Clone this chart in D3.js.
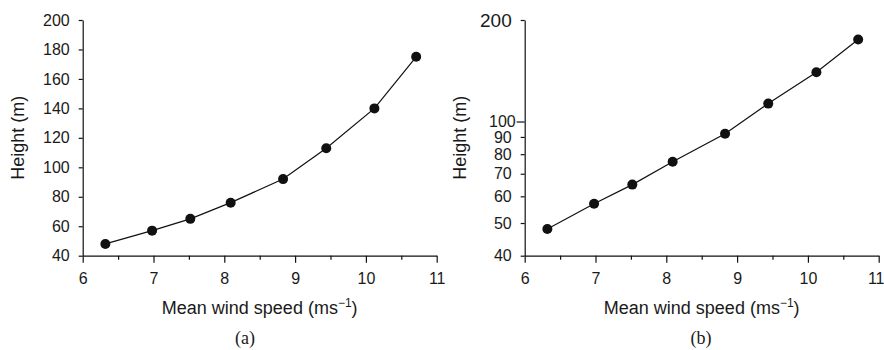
<!DOCTYPE html>
<html>
<head>
<meta charset="utf-8">
<script src="https://cdn.jsdelivr.net/npm/d3@7"></script>
<style>
  html, body { margin: 0; padding: 0; background: #fff; }
  svg { display: block; }
  .tick text { font-family: "Liberation Sans", Arial, sans-serif; fill: #1a1a1a; }
</style>
</head>
<body>
<svg id="chart" width="884" height="350"></svg>
<script>
// Mean wind speed against hub height
const windSpeed = [6.32, 6.98, 7.52, 8.09, 8.83, 9.44, 10.12, 10.71];
const height    = [48, 57, 65, 76, 92, 113, 140, 175];

const xMajorTicks = [6, 7, 8, 9, 10, 11];
const xMinorTicks = [6.5, 7.5, 8.5, 9.5, 10.5];
const yLinearTicks = [40, 60, 80, 100, 120, 140, 160, 180, 200];
const yLogTicks = [40, 50, 60, 70, 80, 90, 100, 200];
const panelCaptions = ["(a)", "(b)"];

const points = windSpeed.map((w, i) => ({ w, h: height[i] }));

const svg = d3.select("#chart");
const font = '"Liberation Sans", Arial, sans-serif';

function drawPanel(offsetX, yScaleType, caption, captionX) {
  const left = 82.7, right = 436.7, top = 20, bottom = 255.7;
  const g = svg.append("g").attr("transform", `translate(${offsetX},0)`);

  const x = d3.scaleLinear().domain([6, 11]).range([left, right]);
  const y = (yScaleType === "log" ? d3.scaleLog() : d3.scaleLinear())
    .domain([40, 200]).range([bottom, top]);

  // x axis: labelled integer ticks plus short half-unit ticks
  const xAxis = g.append("g").attr("transform", `translate(0,${bottom})`)
    .call(d3.axisBottom(x).tickValues(xMajorTicks).tickFormat(d3.format("d"))
      .tickSize(7).tickSizeOuter(0).tickPadding(10));
  g.append("g").attr("transform", `translate(0,${bottom})`)
    .call(d3.axisBottom(x).tickValues(xMinorTicks).tickFormat("").tickSize(4).tickSizeOuter(0))
    .select(".domain").remove();
  xAxis.selectAll("text").style("font-size", "16px");
  if (offsetX + right + 9 > 884) {
    // keep the last label inside the page edge
    xAxis.selectAll(".tick").filter(d => d === 11).select("text")
      .attr("text-anchor", "end").attr("dx", 884 - offsetX - right);
  }

  // y axis
  const yAxis = g.append("g").attr("transform", `translate(${left},0)`)
    .call(d3.axisLeft(y)
      .tickValues(yScaleType === "log" ? yLogTicks : yLinearTicks)
      .tickFormat(d3.format("d"))
      .tickSize(4).tickSizeOuter(0).tickPadding(9));
  yAxis.selectAll("text").style("font-size", "16px");
  if (yScaleType === "log") {
    yAxis.selectAll(".tick").filter(d => d === 200).select("text").style("font-size", "19px");
    yAxis.selectAll(".tick").filter(d => d === 100).select("line").attr("x2", -8);
    yAxis.selectAll(".tick").filter(d => d === 100).select("text").attr("x", -9);
  }

  g.selectAll(".domain, .tick line").attr("stroke", "#111").attr("stroke-width", 1.2);

  // connecting line
  const line = d3.line().x(d => x(d.w)).y(d => y(d.h));
  g.append("path").datum(points)
    .attr("d", line).attr("fill", "none")
    .attr("stroke", "#111").attr("stroke-width", 1.2);

  // markers
  g.selectAll("circle.pt").data(points).enter().append("circle")
    .attr("class", "pt")
    .attr("cx", d => x(d.w)).attr("cy", d => y(d.h))
    .attr("r", 5).attr("fill", "#111");

  // axis titles
  const xt = g.append("text")
    .attr("x", (left + right) / 2).attr("y", 314)
    .attr("text-anchor", "middle")
    .style("font-family", font).style("font-size", "18px").attr("fill", "#1a1a1a");
  xt.append("tspan").text("Mean wind speed (ms");
  xt.append("tspan").attr("dy", -7).style("font-size", "12px").text("\u22121");
  xt.append("tspan").attr("dy", 7).text(")");

  g.append("text")
    .attr("transform", `translate(24,${(top + bottom) / 2}) rotate(-90)`)
    .attr("text-anchor", "middle")
    .style("font-family", font).style("font-size", "18px").attr("fill", "#1a1a1a")
    .text("Height (m)");

  // panel caption
  g.append("text")
    .attr("x", captionX).attr("y", 344)
    .attr("text-anchor", "middle")
    .style("font-family", '"Liberation Serif", "Times New Roman", serif')
    .style("font-size", "18px").attr("fill", "#1a1a1a")
    .text(caption);
}

drawPanel(0, "linear", panelCaptions[0], 245);
drawPanel(442, "log", panelCaptions[1], 259);
</script>
</body>
</html>
